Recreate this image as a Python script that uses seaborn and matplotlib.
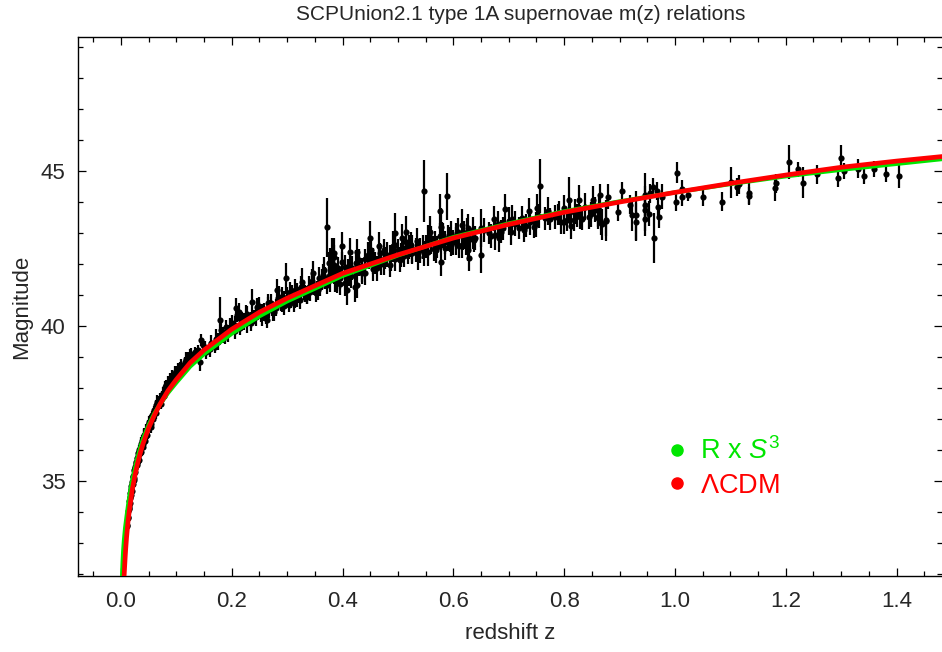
import numpy as np
import pandas as pd
import seaborn as sns
import matplotlib.pyplot as plt
from matplotlib.ticker import MultipleLocator
from matplotlib.lines import Line2D

sns.set_style('ticks')
plt.rcParams['font.family'] = ['Liberation Sans', 'DejaVu Sans']
plt.rcParams['mathtext.fontset'] = 'custom'
plt.rcParams['mathtext.rm'] = 'Liberation Sans'
plt.rcParams['mathtext.it'] = 'Liberation Sans:italic'

# --- supernova data (redshift, magnitude, error) ---
z_low = [0.0105, 0.0118, 0.0131, 0.0143, 0.0152, 0.0161, 0.0170, 0.0179, 0.0185, 0.0192,
         0.0203, 0.0212, 0.0221, 0.0230, 0.0239, 0.0251, 0.0265, 0.0282, 0.0290, 0.0300,
         0.0310, 0.0320, 0.0328, 0.0340, 0.0357, 0.0370, 0.0385, 0.0400, 0.0415, 0.0430,
         0.0443, 0.0460, 0.0475, 0.0490, 0.0508, 0.0520, 0.0538, 0.0550, 0.0565, 0.0580,
         0.0597, 0.0610, 0.0625, 0.0640, 0.0658, 0.0670, 0.0700, 0.0715, 0.0730, 0.0760,
         0.0775, 0.0790, 0.0800, 0.0820, 0.0850, 0.0880, 0.0910, 0.0920, 0.0970, 0.1000,
         0.1030, 0.1060, 0.1090, 0.1120, 0.1150, 0.1180, 0.1210, 0.1240, 0.1270, 0.1300,
         0.1330, 0.1360, 0.1390, 0.1420, 0.1450, 0.1480]
mu_low = [33.55, 33.80, 34.05, 34.10, 34.35, 34.30, 34.62, 34.55, 34.75, 34.70,
          34.98, 34.90, 35.18, 35.10, 35.35, 35.30, 35.55, 35.52, 35.75, 35.65,
          35.90, 35.70, 36.02, 35.90, 36.15, 35.95, 36.30, 36.10, 36.45, 36.30,
          36.55, 36.65, 36.50, 36.80, 36.90, 36.95, 36.75, 36.85, 37.12, 37.10,
          37.28, 37.30, 37.20, 37.45, 37.55, 37.60, 37.65, 37.50, 37.62, 37.85,
          37.75, 37.92, 38.04, 38.10, 38.20, 38.30, 38.22, 38.40, 38.48, 38.55,
          38.62, 38.68, 38.75, 38.62, 38.84, 38.95, 39.00, 39.06, 39.10, 38.98,
          39.17, 39.06, 39.22, 38.84, 39.55, 39.39]
err_low = [0.20, 0.18, 0.22, 0.16, 0.19, 0.17, 0.21, 0.15, 0.18, 0.20,
           0.16, 0.19, 0.22, 0.17, 0.18, 0.15, 0.20, 0.17, 0.19, 0.16,
           0.18, 0.21, 0.15, 0.17, 0.20, 0.16, 0.19, 0.18, 0.22, 0.17,
           0.15, 0.18, 0.20, 0.16, 0.19, 0.17, 0.21, 0.18, 0.15, 0.19,
           0.16, 0.20, 0.18, 0.17, 0.22, 0.15, 0.19, 0.17, 0.20, 0.18,
           0.16, 0.21, 0.18, 0.17, 0.19, 0.20, 0.16, 0.18, 0.22, 0.17,
           0.19, 0.15, 0.20, 0.18, 0.17, 0.21, 0.16, 0.19, 0.18, 0.20,
           0.17, 0.22, 0.18, 0.30, 0.19, 0.20]

z_low2 = [0.0112, 0.0125, 0.0137, 0.0148, 0.0157, 0.0166, 0.0175, 0.0188, 0.0198, 0.0208,
          0.0217, 0.0226, 0.0245, 0.0258, 0.0274, 0.0295, 0.0315, 0.0335, 0.0350, 0.0365,
          0.0392, 0.0422, 0.0452, 0.0482, 0.0530, 0.0572, 0.0605, 0.0650, 0.0690, 0.0745,
          0.0810, 0.0865, 0.0940, 0.1015, 0.1100]
mu_low2 = [33.60, 33.85, 34.15, 34.20, 34.50, 34.45, 34.70, 34.85, 34.88, 35.02,
           35.15, 35.05, 35.42, 35.45, 35.62, 35.60, 35.82, 36.08, 35.92, 36.20,
           36.20, 36.50, 36.45, 36.72, 36.85, 37.00, 37.22, 37.40, 37.55, 37.75,
           37.95, 38.10, 38.30, 38.45, 38.60]
err_low2 = [0.17, 0.20, 0.16, 0.19, 0.18, 0.21, 0.15, 0.18, 0.20, 0.17,
            0.19, 0.16, 0.22, 0.18, 0.17, 0.20, 0.16, 0.19, 0.18, 0.21,
            0.17, 0.20, 0.15, 0.19, 0.18, 0.16, 0.21, 0.18, 0.19, 0.17,
            0.20, 0.18, 0.16, 0.19, 0.18]

z_mid1 = [0.151, 0.154, 0.163, 0.170, 0.172, 0.178, 0.181, 0.184, 0.190, 0.193,
          0.199, 0.201, 0.208, 0.210, 0.213, 0.219, 0.222, 0.234, 0.237, 0.240,
          0.246, 0.249, 0.252, 0.258, 0.261, 0.264, 0.270, 0.273, 0.276, 0.282,
          0.284, 0.288, 0.294, 0.297, 0.300, 0.303, 0.309, 0.312, 0.315, 0.321,
          0.324, 0.327, 0.330, 0.336, 0.339, 0.342, 0.346, 0.348, 0.352, 0.357,
          0.360, 0.366, 0.369, 0.372, 0.372, 0.378, 0.380, 0.381, 0.384, 0.387]
mu_mid1 = [39.28, 39.17, 39.44, 39.33, 39.60, 40.19, 39.87, 39.71, 39.98, 39.76,
           39.87, 40.09, 40.57, 40.36, 40.46, 40.25, 40.14, 40.09, 40.79, 40.30,
           40.62, 40.52, 40.36, 40.46, 40.30, 40.19, 40.73, 40.57, 40.46, 41.17,
           40.90, 40.73, 40.84, 41.54, 40.95, 40.68, 41.00, 40.73, 41.17, 41.00,
           40.84, 41.43, 41.11, 40.95, 41.27, 41.11, 41.71, 41.33, 41.06, 41.54,
           41.27, 41.81, 41.54, 41.33, 43.18, 42.08, 42.30, 41.92, 42.35, 41.49]
err_mid1 = [0.25, 0.22, 0.28, 0.20, 0.30, 0.75, 0.30, 0.25, 0.22, 0.28,
            0.20, 0.26, 0.35, 0.24, 0.30, 0.22, 0.28, 0.25, 0.40, 0.22,
            0.30, 0.26, 0.24, 0.28, 0.22, 0.25, 0.32, 0.24, 0.28, 0.35,
            0.30, 0.25, 0.28, 0.50, 0.30, 0.24, 0.32, 0.28, 0.35, 0.26,
            0.30, 0.45, 0.28, 0.25, 0.35, 0.30, 0.40, 0.32, 0.28, 0.38,
            0.30, 0.42, 0.35, 0.30, 0.95, 0.45, 0.55, 0.40, 0.50, 0.38]

z_mid1b = [0.160, 0.175, 0.187, 0.196, 0.205, 0.216, 0.228, 0.243, 0.255, 0.267,
           0.279, 0.291, 0.306, 0.318, 0.333, 0.345, 0.354, 0.363, 0.375, 0.390,
           0.228, 0.250, 0.266, 0.290, 0.318]
mu_mid1b = [39.25, 39.50, 39.65, 39.95, 39.85, 40.20, 40.10, 40.30, 40.45, 40.55,
            40.60, 40.90, 40.85, 41.10, 41.05, 41.35, 41.20, 41.50, 41.60, 41.45,
            40.40, 40.65, 40.75, 40.70, 40.95]
err_mid1b = [0.25, 0.28, 0.22, 0.30, 0.26, 0.24, 0.32, 0.28, 0.25, 0.30,
             0.27, 0.35, 0.26, 0.30, 0.28, 0.32, 0.25, 0.35, 0.30, 0.33,
             0.26, 0.28, 0.30, 0.25, 0.32]

z_mid2 = [0.375, 0.378, 0.384, 0.384, 0.390, 0.392, 0.399, 0.399, 0.405, 0.408,
          0.411, 0.414, 0.417, 0.422, 0.426, 0.426, 0.429, 0.435, 0.447, 0.450,
          0.451, 0.459, 0.462, 0.465, 0.468, 0.474, 0.477, 0.486, 0.488, 0.491,
          0.495, 0.500, 0.503, 0.508, 0.509, 0.515, 0.518, 0.523, 0.533, 0.536,
          0.547, 0.547, 0.551, 0.554, 0.557, 0.560, 0.566, 0.569, 0.575, 0.577,
          0.578, 0.581, 0.584, 0.589, 0.593, 0.596, 0.605, 0.608, 0.611, 0.615,
          0.617, 0.623, 0.626, 0.629, 0.635, 0.638]
mu_mid2 = [42.03, 41.49, 42.24, 41.97, 41.49, 41.87, 42.57, 42.08, 41.38, 41.17,
           41.65, 42.40, 41.87, 41.27, 41.33, 42.40, 42.14, 41.81, 42.24, 42.84,
           42.46, 42.03, 41.87, 42.57, 42.35, 42.03, 42.19, 41.97, 42.19, 42.57,
           43.00, 42.46, 42.14, 42.84, 42.51, 43.05, 42.35, 42.62, 42.46, 42.24,
           44.35, 42.35, 42.57, 42.40, 43.05, 42.84, 42.73, 42.46, 43.70, 43.21,
           42.08, 42.94, 42.51, 44.18, 42.78, 42.62, 42.73, 43.05, 42.57, 43.27,
           42.89, 42.68, 42.46, 42.19, 43.11, 42.78]
err_mid2 = [0.35, 0.40, 0.38, 0.30, 0.42, 0.35, 0.45, 0.32, 0.40, 0.50,
            0.35, 0.45, 0.38, 0.50, 0.42, 0.40, 0.35, 0.38, 0.40, 0.55,
            0.38, 0.35, 0.40, 0.45, 0.32, 0.38, 0.35, 0.40, 0.42, 0.50,
            0.65, 0.35, 0.40, 0.45, 0.38, 0.50, 0.35, 0.40, 0.38, 0.42,
            1.00, 0.40, 0.38, 0.45, 0.50, 0.40, 0.35, 0.42, 0.55, 0.60,
            0.45, 0.40, 0.38, 0.77, 0.40, 0.35, 0.45, 0.42, 0.38, 0.50,
            0.45, 0.40, 0.35, 0.42, 0.40, 0.38]

z_mid2b = [0.395, 0.410, 0.430, 0.440, 0.455, 0.470, 0.480, 0.495, 0.510, 0.525,
           0.540, 0.560, 0.570, 0.590, 0.600, 0.620, 0.630, 0.440, 0.520, 0.580]
mu_mid2b = [41.55, 41.75, 41.95, 41.70, 42.10, 42.00, 42.30, 42.15, 42.25, 42.50,
            42.45, 42.70, 42.55, 42.85, 42.70, 42.95, 42.80, 42.15, 42.55, 42.95]
err_mid2b = [0.35, 0.40, 0.32, 0.38, 0.42, 0.35, 0.40, 0.38, 0.33, 0.45,
             0.40, 0.38, 0.35, 0.42, 0.40, 0.45, 0.38, 0.35, 0.40, 0.42]

z_mid3 = [0.205, 0.215, 0.225, 0.235, 0.245, 0.255, 0.265, 0.275, 0.285, 0.295,
          0.305, 0.315, 0.325, 0.335, 0.345, 0.355, 0.365, 0.385, 0.395, 0.405,
          0.415, 0.425, 0.435, 0.445, 0.455, 0.465, 0.475, 0.485, 0.495, 0.505,
          0.515, 0.525, 0.535, 0.545, 0.555, 0.565, 0.575, 0.585, 0.595, 0.605,
          0.615, 0.625]
mu_mid3 = [40.05, 39.95, 40.35, 40.20, 40.50, 40.30, 40.60, 40.45, 40.95, 40.65,
           41.10, 40.85, 41.25, 41.00, 41.45, 41.15, 41.65, 41.75, 41.35, 41.90,
           41.60, 42.05, 41.70, 42.30, 41.85, 42.20, 42.45, 42.20, 42.60, 42.30,
           42.70, 42.35, 42.75, 42.55, 42.80, 42.50, 42.90, 42.70, 43.00, 42.90,
           42.60, 43.05]
err_mid3 = [0.28, 0.25, 0.32, 0.26, 0.30, 0.28, 0.33, 0.27, 0.35, 0.30,
            0.32, 0.28, 0.35, 0.30, 0.38, 0.32, 0.36, 0.40, 0.35, 0.38,
            0.36, 0.40, 0.35, 0.42, 0.38, 0.40, 0.36, 0.42, 0.40, 0.38,
            0.42, 0.36, 0.40, 0.38, 0.45, 0.40, 0.42, 0.38, 0.40, 0.44,
            0.40, 0.42]

z_hi1 = [0.626, 0.635, 0.639, 0.650, 0.650, 0.665, 0.674, 0.675, 0.683, 0.686,
         0.693, 0.704, 0.706, 0.719, 0.728, 0.731, 0.736, 0.746, 0.749, 0.751,
         0.757, 0.766, 0.774, 0.783, 0.788, 0.794, 0.799, 0.805, 0.808, 0.811,
         0.812, 0.817, 0.823, 0.826, 0.828, 0.832, 0.844, 0.848, 0.852, 0.861,
         0.862, 0.867, 0.876]
mu_hi1 = [43.16, 42.84, 42.84, 42.30, 43.16, 43.00, 43.46, 42.94, 42.84, 43.05,
          43.77, 43.02, 43.45, 43.16, 43.10, 43.24, 43.72, 43.19, 43.28, 43.82,
          44.52, 43.47, 43.45, 43.52, 43.60, 43.36, 43.36, 43.41, 44.06, 43.68,
          43.22, 43.41, 43.57, 44.06, 43.52, 43.45, 43.52, 43.60, 44.06, 43.48,
          43.74, 43.31, 43.40]
err_hi1 = [0.45, 0.35, 0.40, 0.60, 0.60, 0.35, 0.40, 0.50, 0.45, 0.38,
           0.50, 0.40, 0.45, 0.35, 0.40, 0.38, 0.42, 0.35, 0.40, 0.45,
           0.87, 0.38, 0.35, 0.40, 0.35, 0.38, 0.40, 0.35, 0.75, 0.45,
           0.40, 0.35, 0.38, 0.50, 0.40, 0.35, 0.38, 0.40, 0.45, 0.35,
           0.42, 0.38, 0.65]

z_hi1b = [0.655, 0.668, 0.680, 0.690, 0.700, 0.712, 0.724, 0.738, 0.755, 0.770,
          0.790, 0.800, 0.820, 0.838, 0.855]
mu_hi1b = [43.10, 42.90, 43.30, 43.15, 43.40, 43.30, 43.50, 43.35, 43.55, 43.70,
           43.65, 43.80, 43.70, 43.85, 43.75]
err_hi1b = [0.40, 0.38, 0.42, 0.36, 0.45, 0.40, 0.38, 0.42, 0.40, 0.45,
            0.38, 0.42, 0.40, 0.44, 0.40]

z_hi2 = [0.861, 0.864, 0.868, 0.876, 0.880, 0.898, 0.904, 0.919, 0.922, 0.929,
         0.929, 0.945, 0.945, 0.945, 0.945, 0.953, 0.955, 0.961, 0.962, 0.967,
         0.969, 0.971, 0.977, 1.001, 1.003, 1.012, 1.013, 1.023, 1.050, 1.085,
         1.102, 1.112, 1.115, 1.133, 1.133, 1.181, 1.182, 1.206, 1.222, 1.231,
         1.257, 1.294, 1.299, 1.305, 1.330, 1.341, 1.360, 1.381, 1.405]
mu_hi2 = [43.51, 44.22, 43.29, 43.41, 44.17, 43.68, 44.35, 43.92, 43.57, 43.57,
          43.36, 43.92, 43.73, 43.46, 44.22, 43.63, 44.28, 44.49, 42.84, 44.35,
          43.84, 43.52, 44.17, 44.01, 44.95, 44.41, 44.17, 44.22, 44.17, 44.01,
          44.64, 44.48, 44.57, 44.30, 44.19, 44.44, 44.60, 45.29, 45.05, 44.62,
          44.89, 44.79, 45.43, 45.00, 45.08, 44.84, 45.06, 44.90, 44.84]
err_hi2 = [0.30, 0.35, 0.50, 0.50, 0.40, 0.30, 0.30, 0.30, 0.50, 0.80,
           0.60, 1.00, 0.40, 0.40, 0.30, 0.40, 0.30, 0.30, 0.80, 0.30,
           0.40, 0.35, 0.40, 0.30, 0.35, 0.30, 0.30, 0.20, 0.30, 0.30,
           0.50, 0.30, 0.30, 0.35, 0.30, 0.40, 0.30, 0.56, 0.25, 0.50,
           0.30, 0.30, 0.40, 0.25, 0.30, 0.25, 0.25, 0.25, 0.40]

# --- model curves ---
z_lcdm = [0.0040, 0.0055, 0.0065, 0.0075, 0.0085, 0.010, 0.0125, 0.015, 0.020, 0.025,
          0.030, 0.035, 0.040, 0.050, 0.060, 0.070, 0.085, 0.100, 0.125, 0.150,
          0.200, 0.250, 0.300, 0.400, 0.500, 0.600, 0.700, 0.800, 0.900, 1.000,
          1.100, 1.200, 1.300, 1.400, 1.490]
mu_lcdm = [31.18, 31.90, 32.23, 32.54, 32.82, 33.18, 33.67, 34.05, 34.69, 35.17,
           35.58, 35.92, 36.22, 36.72, 37.12, 37.47, 37.92, 38.28, 38.82, 39.23,
           39.90, 40.45, 40.90, 41.70, 42.30, 42.84, 43.28, 43.67, 44.00, 44.31,
           44.60, 44.87, 45.12, 45.32, 45.48]

z_rs3 = [0.0012, 0.0020, 0.0030, 0.0040, 0.0055, 0.0075, 0.010, 0.013, 0.016, 0.020,
         0.025, 0.030, 0.035, 0.040, 0.050, 0.060, 0.070, 0.085, 0.100, 0.125,
         0.150, 0.200, 0.250, 0.300, 0.400, 0.500, 0.600, 0.700, 0.800, 0.900,
         1.000, 1.100, 1.200, 1.300, 1.400, 1.490]
mu_rs3 = [31.30, 31.95, 32.40, 32.75, 33.12, 33.50, 33.85, 34.25, 34.60, 35.00,
          35.40, 35.78, 36.10, 36.38, 36.82, 37.18, 37.47, 37.85, 38.18, 38.70,
          39.10, 39.76, 40.32, 40.80, 41.62, 42.28, 42.87, 43.31, 43.70, 44.02,
          44.31, 44.58, 44.83, 45.04, 45.23, 45.40]

GREEN = '#00e600'
RED = '#ff0000'

sn = pd.concat([
    pd.DataFrame({'z': z_low, 'mu': mu_low, 'err': err_low}),
    pd.DataFrame({'z': z_low2, 'mu': mu_low2, 'err': err_low2}),
    pd.DataFrame({'z': z_mid1, 'mu': mu_mid1, 'err': err_mid1}),
    pd.DataFrame({'z': z_mid1b, 'mu': mu_mid1b, 'err': err_mid1b}),
    pd.DataFrame({'z': z_mid2, 'mu': mu_mid2, 'err': err_mid2}),
    pd.DataFrame({'z': z_mid2b, 'mu': mu_mid2b, 'err': err_mid2b}),
    pd.DataFrame({'z': z_mid3, 'mu': mu_mid3, 'err': err_mid3}),
    pd.DataFrame({'z': z_hi1, 'mu': mu_hi1, 'err': err_hi1}),
    pd.DataFrame({'z': z_hi1b, 'mu': mu_hi1b, 'err': err_hi1b}),
    pd.DataFrame({'z': z_hi2, 'mu': mu_hi2, 'err': err_hi2}),
], ignore_index=True)
curves = pd.DataFrame({'z': z_rs3, 'mu': mu_rs3})
curves2 = pd.DataFrame({'z': z_lcdm, 'mu': mu_lcdm})

fig = plt.figure(figsize=(9.42, 6.52), dpi=100)
ax = fig.add_axes([78 / 942, 1 - 576 / 652, 864 / 942, 539 / 652])

ax.errorbar(sn['z'], sn['mu'], yerr=sn['err'], fmt='none', ecolor='black',
            elinewidth=1.6, capsize=0, zorder=2)
sns.scatterplot(data=sn, x='z', y='mu', color='black', s=20, linewidth=0,
                ax=ax, zorder=3, legend=False)
sns.lineplot(data=curves, x='z', y='mu', color=GREEN, lw=3.0, estimator=None,
             ax=ax, zorder=4)
sns.lineplot(data=curves2, x='z', y='mu', color=RED, lw=3.4, estimator=None,
             ax=ax, zorder=5)

ax.set_xlim(-0.0776, 1.482)
ax.set_ylim(31.945, 49.32)
ax.xaxis.set_major_locator(MultipleLocator(0.2))
ax.xaxis.set_minor_locator(MultipleLocator(0.05))
ax.yaxis.set_major_locator(MultipleLocator(5))
ax.yaxis.set_minor_locator(MultipleLocator(1))
ax.xaxis.set_major_formatter(plt.FuncFormatter(lambda v, p: f'{v:.1f}'))
ax.tick_params(which='both', direction='in', top=True, right=True, color='black',
               labelsize=16, width=0.9)
ax.tick_params(axis='x', pad=11)
ax.tick_params(axis='y', pad=9)
ax.tick_params(which='major', length=6)
ax.tick_params(which='minor', length=3.5)
for s in ax.spines.values():
    s.set_color('black')
    s.set_linewidth(1.0)
ax.spines['right'].set_visible(False)

ax.set_xlabel('redshift z', fontsize=16, labelpad=8)
ax.set_ylabel('Magnitude', fontsize=16, labelpad=6)
fig.text(521 / 942, 1 - 15 / 652, 'SCPUnion2.1 type 1A supernovae m(z) relations',
         ha='center', va='center', fontsize=15)

handles = [Line2D([], [], ls='none', marker='o', ms=8, color=GREEN),
           Line2D([], [], ls='none', marker='o', ms=8, color=RED)]
ax.legend(handles, ['R x $S^3$', r'$\Lambda$CDM'], loc='center left',
          bbox_to_anchor=((668 - 78) / 864, (576 - 468) / 539), frameon=False,
          fontsize=19.5, labelcolor=[GREEN, RED], handlelength=0.7,
          handletextpad=0.5, labelspacing=0.28, borderpad=0, borderaxespad=0)

fig.savefig('out.png', dpi=100)
